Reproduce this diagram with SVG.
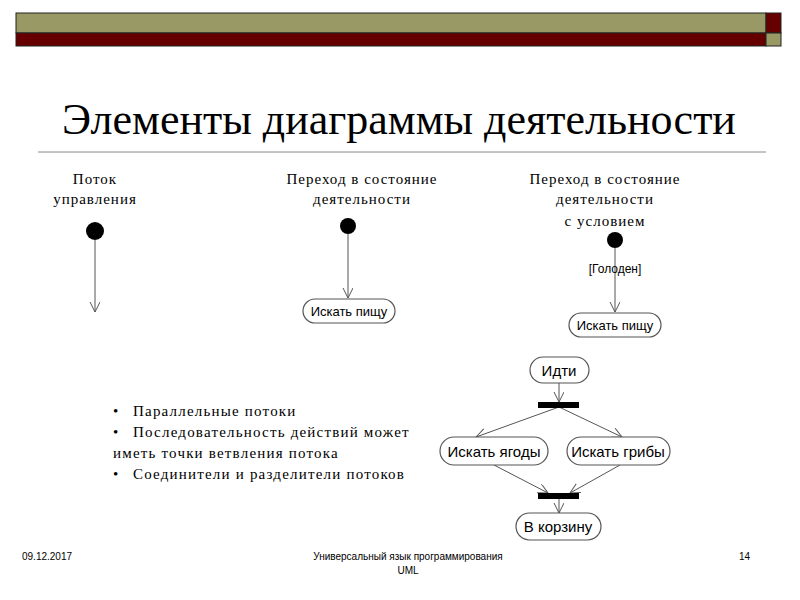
<svg xmlns="http://www.w3.org/2000/svg" width="800" height="600" viewBox="0 0 800 600">
<style>
.s{font-family:"Liberation Serif",serif;fill:#000}
.a{font-family:"Liberation Sans",sans-serif;fill:#000}
.n{fill:#fff;stroke:#555;stroke-width:1.2}
.c{stroke:#555;stroke-width:1;fill:none;marker-end:url(#ar)}
</style>
<defs><marker id="ar" markerWidth="12" markerHeight="12" refX="10" refY="5" orient="auto" markerUnits="userSpaceOnUse"><path d="M0,0 L10,5 L0,10" fill="none" stroke="#555" stroke-width="1"/></marker></defs>
<rect width="800" height="600" fill="#fff"/>
<rect x="16" y="13" width="750" height="20" fill="#999966" stroke="#222" stroke-width="1"/>
<rect x="16" y="33" width="750" height="13" fill="#660000" stroke="#222" stroke-width="1"/>
<rect x="766" y="13" width="15" height="20" fill="#660000" stroke="#222" stroke-width="1"/>
<rect x="766" y="33" width="15" height="13" fill="#999966" stroke="#222" stroke-width="1"/>
<text x="399" y="134" text-anchor="middle" class="s" font-size="44">Элементы диаграммы деятельности</text>
<line x1="38" y1="152" x2="766" y2="152" stroke="#888" stroke-width="1"/>
<g class="s" font-size="15" letter-spacing="1" text-anchor="middle">
<text><tspan x="95" y="184">Поток</tspan><tspan x="95" y="204">управления</tspan></text>
<text><tspan x="362" y="184">Переход в состояние</tspan><tspan x="362" y="204">деятельности</tspan></text>
<text><tspan x="605" y="184">Переход в состояние</tspan><tspan x="605" y="204">деятельности</tspan><tspan x="605" y="226">с условием</tspan></text>
</g>
<g id="connectors">
<path class="c" d="M95,240 V312"/>
<path class="c" d="M348,234 V298"/>
<path class="c" d="M615,248 V312"/>
<path class="c" d="M559,382 V402"/>
<path class="c" d="M559,407 L476,437"/>
<path class="c" d="M559,407 L622,437"/>
<path class="c" d="M494,465 L548,493"/>
<path class="c" d="M620,465 L570,493"/>
<path class="c" d="M559,498 V513"/>
</g>
<g id="start1"><circle cx="95" cy="231" r="9" fill="#000"/></g>
<g id="start2"><circle cx="348" cy="226" r="8" fill="#000"/></g>
<g id="start3"><circle cx="615" cy="240" r="8" fill="#000"/></g>
<text x="615" y="273" text-anchor="middle" class="a" font-size="12">[Голоден]</text>
<g id="n1"><rect class="n" x="303" y="299" width="92" height="24" rx="12"/><text x="349" y="316" text-anchor="middle" class="a" font-size="13">Искать пищу</text></g>
<g id="n2"><rect class="n" x="569" y="313" width="92" height="24" rx="12"/><text x="615" y="330" text-anchor="middle" class="a" font-size="13">Искать пищу</text></g>
<g id="idti"><rect class="n" x="530" y="357" width="59" height="26" rx="13"/><text x="559" y="376" text-anchor="middle" class="a" font-size="15">Идти</text></g>
<g id="fork"><rect x="538" y="402" width="41" height="6" fill="#000"/></g>
<g id="yagody"><rect class="n" x="440" y="437" width="108" height="28" rx="14"/><text x="494" y="457" text-anchor="middle" class="a" font-size="15">Искать ягоды</text></g>
<g id="griby"><rect class="n" x="567" y="437" width="103" height="28" rx="14"/><text x="618" y="457" text-anchor="middle" class="a" font-size="15">Искать грибы</text></g>
<g id="join"><rect x="538" y="493" width="41" height="6" fill="#000"/></g>
<g id="korzina"><rect class="n" x="516" y="513" width="85" height="27" rx="13.5"/><text x="558" y="532" text-anchor="middle" class="a" font-size="15">В корзину</text></g>
<g class="s" font-size="15" letter-spacing="1.2">
<text x="113" y="416">•</text><text x="133" y="416">Параллельные потоки</text>
<text x="113" y="437">•</text><text x="133" y="437">Последовательность действий может</text>
<text x="113" y="458">иметь точки ветвления потока</text>
<text x="113" y="479">•</text><text x="133" y="479">Соединители и разделители потоков</text>
</g>
<text x="22" y="560" class="a" font-size="10" fill="#333">09.12.2017</text>
<text x="408" y="560" text-anchor="middle" class="a" font-size="10"><tspan x="408">Универсальный язык программирования</tspan><tspan x="408" y="574">UML</tspan></text>
<text x="750" y="560" text-anchor="end" class="a" font-size="10">14</text>
</svg>
